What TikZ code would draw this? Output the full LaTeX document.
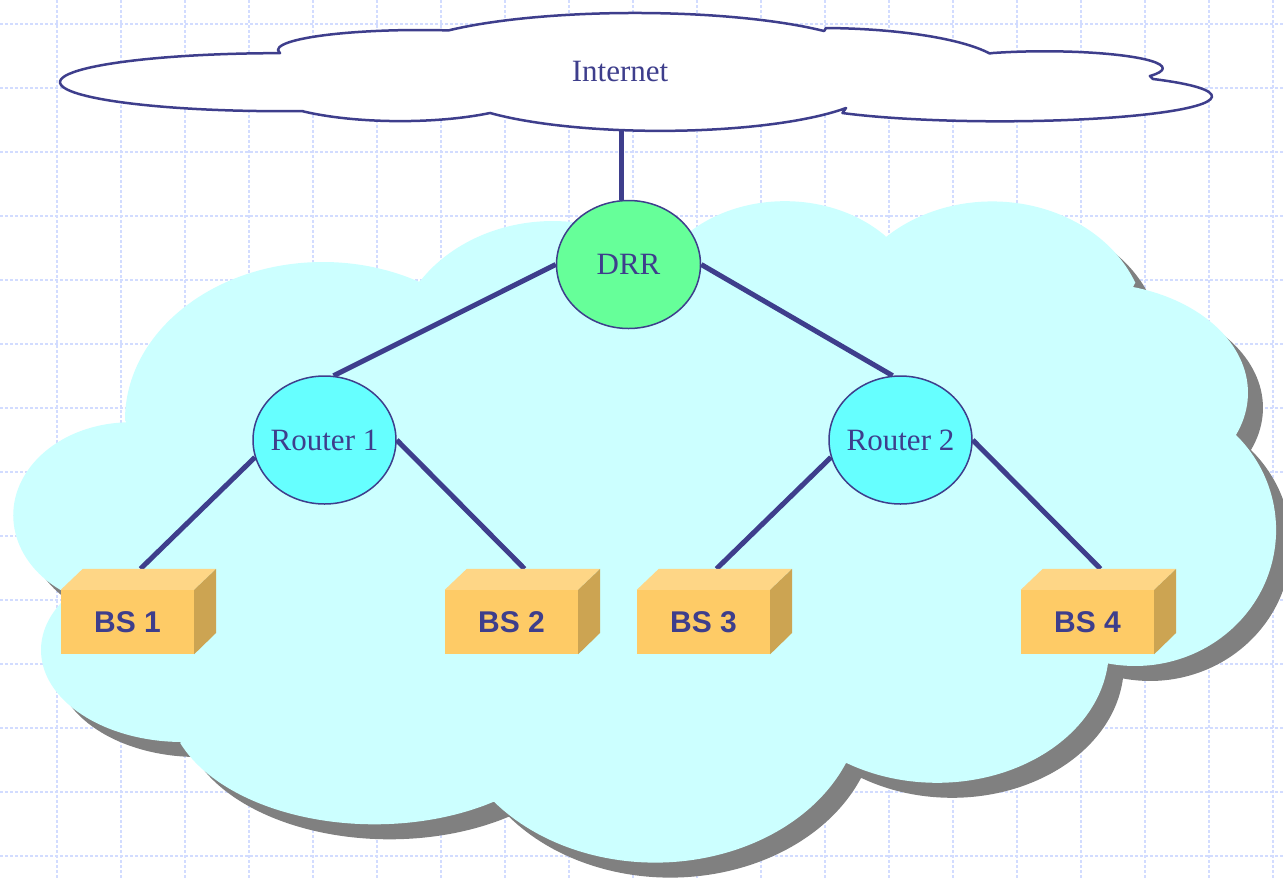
\documentclass[tikz,border=0pt]{standalone}
\usepackage{fontspec}
\setmainfont{Liberation Serif}
\newfontfamily\bsfont{Liberation Sans}
\usetikzlibrary{shapes.geometric,calc}
\definecolor{ink}{RGB}{62,62,140}
\definecolor{gridc}{RGB}{210,220,255}
\definecolor{cloudc}{RGB}{204,255,255}
\definecolor{shadowc}{RGB}{128,128,128}
\definecolor{drrc}{RGB}{102,255,153}
\definecolor{routc}{RGB}{102,255,255}
\definecolor{bsfront}{RGB}{254,203,102}
\definecolor{bstop}{RGB}{254,214,134}
\definecolor{bsside}{RGB}{204,164,82}
\pgfdeclarelayer{back}
\pgfdeclarelayer{lines}
\pgfsetlayers{back,lines,main}
\begin{document}
\begin{tikzpicture}[x=1pt,y=-1pt,
  gridline/.style={gridc, line width=1.2pt, dash pattern=on 3pt off 2pt},
  link/.style={ink, line width=5pt},
  router/.style={ellipse, draw=ink, line width=1.5pt, fill=routc, minimum width=143pt, minimum height=128pt, inner sep=0pt, text=ink, font=\fontsize{31}{36}\selectfont},
  drrnode/.style={router, fill=drrc, minimum width=144pt},
  bsbox/.style={rectangle, fill=bsfront, minimum width=133pt, minimum height=64pt, inner sep=0pt, text=ink, font=\bsfont\bfseries\fontsize{30}{36}\selectfont},
  inettext/.style={text=ink, inner sep=0pt, font=\fontsize{31}{36}\selectfont},
  inetcloud/.style={draw=ink, fill=white, line width=2.5pt, line join=round},
  ]
\useasboundingbox (0,0) rectangle (1283,879);
\begin{pgfonlayer}{back}
\fill[white] (0,0) rectangle (1283,879);
\foreach \i in {0,...,19} \draw[gridline] ({57+64*\i},0) -- ({57+64*\i},879);
\foreach \j in {0,...,13} \draw[gridline] (0,{24+64*\j}) -- (1283,{24+64*\j});
% main cloud with shadow
\foreach \d/\c in {15/shadowc, 0/cloudc} {
  \fill[\c, shift={(\d,\d)}] (125,420) arc[start angle=180, end angle=299, x radius=198, y radius=158]
   -- (421,280) arc[start angle=214.5, end angle=314, x radius=160, y radius=136]
   -- (664,259) arc[start angle=208, end angle=317, x radius=137, y radius=109]
   -- (886,237) arc[start angle=226.4, end angle=338.3, x radius=154, y radius=129]
   -- (1133,287) arc[start angle=285.8, end angle=382.5, x radius=158, y radius=110]
   -- (1236,435) arc[start angle=315.7, end angle=461.5, x radius=141, y radius=136]
   -- (1108,663) arc[start angle=5.7, end angle=121.4, x radius=172, y radius=133]
   -- (846,763) arc[start angle=22.9, end angle=141.2, x radius=207, y radius=163]
   -- (493,802) arc[start angle=55.1, end angle=160, x radius=207, y radius=124]
   -- (182,742) arc[start angle=90.4, end angle=217.4, x radius=142, y radius=92]
   -- (70,595) arc[start angle=121, end angle=268, x radius=117, y radius=93]
   -- cycle;
}
% Internet cloud
\path[inetcloud] (303,111) arc[start angle=84, end angle=270, x radius=220, y radius=29]
 -- (278,50) arc[start angle=180, end angle=280, x radius=142, y radius=20]
 -- (448.5,30.4) arc[start angle=219, end angle=322, x radius=240, y radius=47]
 -- (826,28) arc[start angle=272, end angle=336.8, x radius=185, y radius=42]
 -- (993,53) arc[start angle=244, end angle=387, x radius=118, y radius=17]
 -- (1153,79) arc[start angle=316.2, end angle=498, x radius=212, y radius=25]
 -- (846,108) arc[start angle=30.2, end angle=142.4, x radius=215, y radius=46]
 -- (490,113) arc[start angle=50.8, end angle=133.7, x radius=142, y radius=36]
 -- cycle;
\end{pgfonlayer}

\node[inettext] (inet) at (620,71) {Internet};
\coordinate (inetb) at (621,130);
\node[drrnode] (drr) at (628.5,264.5) {DRR};
\node[router] (r1) at (324.5,440) {\makebox[0pt]{Router 1}};
\node[router] (r2) at (900.5,440) {\makebox[0pt]{Router 2}};
\foreach \n/\x in {1/127.5, 2/511.5, 3/703.5, 4/1087.5} {
  \node[bsbox] (b\n) at (\x,622) {BS \n};
  \fill[bstop] (b\n.north west) -- ++(22,-21) -- ++(133,0) -- (b\n.north east) -- cycle;
  \fill[bsside] (b\n.north east) -- ++(22,-21) -- ++(0,64) -- (b\n.south east) -- cycle;
  \coordinate (t\n) at ($(b\n.north)+(13,-21)$);
}

\begin{pgfonlayer}{lines}
\draw[link] (inetb) -- (inetb |- drr.north);
\draw[link] (drr.west) -- (r1.82);
\draw[link] (drr.east) -- (r2.97);
\draw[link] (r1.194) -- (t1);
\draw[link] (r1.east) -- (t2);
\draw[link] (r2.194) -- (t3);
\draw[link] (r2.east) -- (t4);
\end{pgfonlayer}
\end{tikzpicture}
\end{document}
